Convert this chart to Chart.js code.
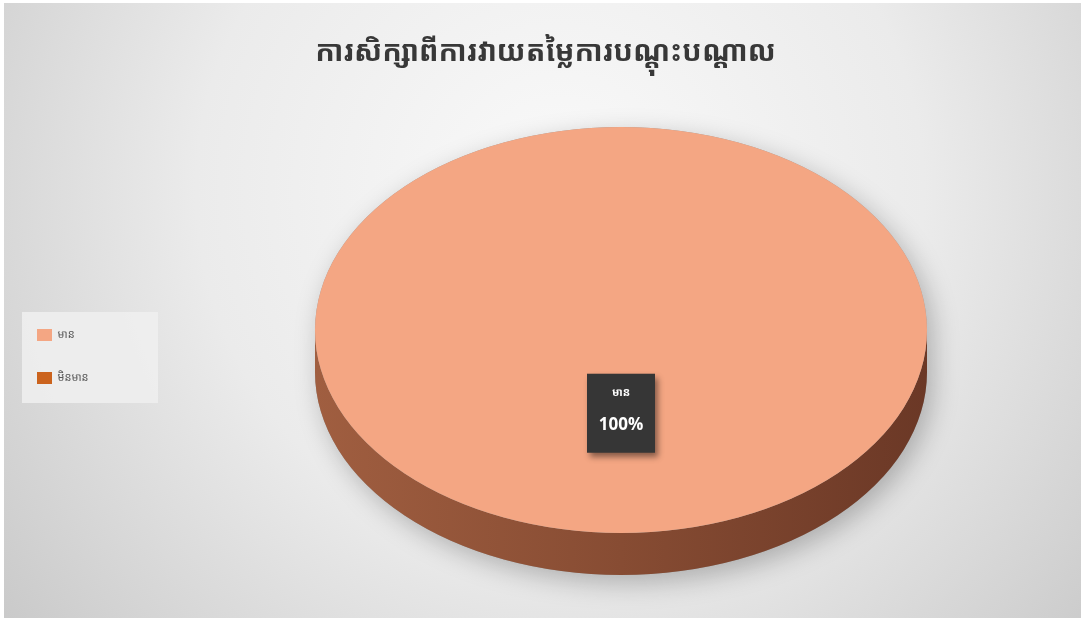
<!DOCTYPE html>
<html>
<head>
<meta charset="utf-8">
<script src="https://cdn.jsdelivr.net/npm/chart.js@4/dist/chart.umd.min.js"></script>
<style>
  html, body { margin: 0; padding: 0; background: #ffffff; overflow: hidden; }
  #wrap { width: 1085px; height: 621px; }
</style>
</head>
<body>
<div id="wrap"><canvas id="c" width="1085" height="621"></canvas></div>
<script>
// Survey result: share of respondents per answer
const chartTitle = 'ការសិក្សាពីការវាយតម្លៃការបណ្តុះបណ្តាល';
const categories = ['មាន', 'មិនមាន'];
const responses = [100, 0];

// Face colours and side-wall shades (light, mid, dark) per slice
const sliceColors = ['#F4A683', '#CB631D'];
const wallShades = [['#A05E40', '#874C33', '#6B3826'], ['#9A4A12', '#7C3B0E', '#5E2C0A']];

const KHMER_FONT = '"Noto Sans Khmer","Khmer OS System","Khmer OS","Noto Sans","DejaVu Sans",sans-serif';
const LABEL_FONT = '"Open Sans",Lato,"DejaVu Sans",sans-serif';

// Tilted-disc view: ellipse of the top face and thickness of the wall
const disc = { cx: 621, cy: 330, rx: 306, ry: 203, depth: 42 };
// Vertical nudge of the legend column
const legendShiftY = 46;

function discTransform(arc) {
  const R = arc.outerRadius;
  return { R, sx: disc.rx / R, sy: disc.ry / R, x: arc.x, y: arc.y };
}

function toScreen(t, px, py) {
  return { x: disc.cx + (px - t.x) * t.sx, y: disc.cy + (py - t.y) * t.sy };
}

const discPlugin = {
  id: 'disc3d',
  afterLayout(chart) {
    const lg = chart.legend;
    if (lg) {
      lg.top += legendShiftY;
      lg.bottom += legendShiftY;
    }
  },
  beforeDraw(chart) {
    const { ctx, width, height } = chart;
    ctx.save();
    ctx.fillStyle = '#ffffff';
    ctx.fillRect(0, 0, width, height);
    const g = ctx.createRadialGradient(560, 190, 40, 560, 190, 760);
    g.addColorStop(0, '#f8f8f8');
    g.addColorStop(0.45, '#ebebeb');
    g.addColorStop(1, '#c4c4c4');
    ctx.fillStyle = g;
    ctx.fillRect(4, 3, width - 8, height - 6);

    // legend panel
    const lg = chart.legend;
    if (lg && lg.columnSizes && lg.columnSizes.length) {
      const pad = lg.options.labels.padding;
      const colH = lg.columnSizes[0].height;
      const itemsTop = (lg.top + pad + lg.bottom - colH) / 2;
      ctx.fillStyle = 'rgba(238,238,238,0.9)';
      ctx.fillRect(lg.left + pad - 15, itemsTop - 17, 136, 91);
    }
    ctx.restore();
  },
  beforeDatasetsDraw(chart) {
    const meta = chart.getDatasetMeta(0);
    const first = meta.data[0];
    if (!first) return;
    const ctx = chart.ctx;
    const t = discTransform(first);
    const d = disc.depth / t.sy;
    ctx.save();
    ctx.translate(disc.cx, disc.cy);
    ctx.scale(t.sx, t.sy);
    ctx.translate(-t.x, -t.y);

    // soft drop shadow of the whole disc
    ctx.save();
    ctx.shadowColor = 'rgba(0,0,0,0.25)';
    ctx.shadowBlur = 26;
    ctx.shadowOffsetX = 6;
    ctx.shadowOffsetY = 8;
    ctx.fillStyle = '#9a9a9a';
    ctx.beginPath();
    ctx.arc(t.x, t.y, t.R, Math.PI, 0);
    ctx.lineTo(t.x + t.R, t.y + d);
    ctx.arc(t.x, t.y + d, t.R, 0, Math.PI);
    ctx.closePath();
    ctx.fill();
    ctx.restore();

    // front wall of each slice (visible between 0 and PI)
    meta.data.forEach((arc, i) => {
      const p = arc.getProps(['startAngle', 'endAngle', 'outerRadius', 'x', 'y']);
      if (p.endAngle - p.startAngle <= 0) return;
      const segs = [];
      for (let k = -1; k <= 1; k++) {
        const a = Math.max(p.startAngle, k * 2 * Math.PI);
        const b = Math.min(p.endAngle, k * 2 * Math.PI + Math.PI);
        if (b > a) segs.push([a, b]);
      }
      const sh = wallShades[i % wallShades.length];
      const grad = ctx.createLinearGradient(p.x - p.outerRadius, 0, p.x + p.outerRadius, 0);
      grad.addColorStop(0, sh[0]);
      grad.addColorStop(0.5, sh[1]);
      grad.addColorStop(1, sh[2]);
      segs.forEach(([a, b]) => {
        ctx.beginPath();
        ctx.arc(p.x, p.y, p.outerRadius, a, b);
        ctx.lineTo(p.x + Math.cos(b) * p.outerRadius, p.y + Math.sin(b) * p.outerRadius + d);
        ctx.arc(p.x, p.y + d, p.outerRadius, b, a, true);
        ctx.closePath();
        ctx.fillStyle = grad;
        ctx.fill();
      });
    });
  },
  afterDatasetsDraw(chart) {
    const meta = chart.getDatasetMeta(0);
    if (!meta.data[0]) return;
    const ctx = chart.ctx;
    ctx.restore();

    const t = discTransform(meta.data[0]);
    const values = chart.data.datasets[0].data;
    const total = values.reduce((s, v) => s + v, 0);
    meta.data.forEach((arc, i) => {
      const p = arc.getProps(['startAngle', 'endAngle', 'outerRadius', 'x', 'y']);
      if (p.endAngle - p.startAngle <= 0) return;
      const mid = (p.startAngle + p.endAngle) / 2;
      const r = p.outerRadius * 0.41;
      const s = toScreen(t, p.x + Math.cos(mid) * r, p.y + Math.sin(mid) * r);
      const w = 68, h = 79;
      ctx.save();
      ctx.shadowColor = 'rgba(0,0,0,0.45)';
      ctx.shadowBlur = 6;
      ctx.shadowOffsetX = 3;
      ctx.shadowOffsetY = 4;
      ctx.fillStyle = '#363636';
      ctx.fillRect(s.x - w / 2, s.y - h / 2, w, h);
      ctx.restore();
      ctx.save();
      ctx.fillStyle = '#ffffff';
      ctx.textAlign = 'center';
      ctx.textBaseline = 'middle';
      ctx.font = 'bold 11px ' + KHMER_FONT;
      ctx.fillText(chart.data.labels[i], s.x, s.y - 20);
      ctx.font = 'bold 17px ' + LABEL_FONT;
      const pct = Math.round(values[i] / total * 100) + '%';
      ctx.fillText(pct, s.x, s.y + 12);
      ctx.restore();
    });
  }
};

new Chart(document.getElementById('c'), {
  type: 'pie',
  data: {
    labels: categories,
    datasets: [{
      data: responses,
      backgroundColor: sliceColors,
      borderWidth: 0,
      clip: false
    }]
  },
  options: {
    responsive: false,
    animation: false,
    events: [],
    layout: { padding: { left: 6, right: 0, top: 0, bottom: 0 } },
    plugins: {
      title: {
        display: true,
        text: chartTitle,
        color: '#383838',
        font: { family: KHMER_FONT, size: 29, weight: 'bold' },
        padding: { top: 35, bottom: 20 }
      },
      legend: {
        position: 'left',
        align: 'center',
        labels: {
          boxWidth: 15,
          boxHeight: 12,
          padding: 31,
          color: '#595959',
          font: { family: KHMER_FONT, size: 11 }
        }
      },
      tooltip: { enabled: false }
    }
  },
  plugins: [discPlugin]
});
</script>
</body>
</html>
